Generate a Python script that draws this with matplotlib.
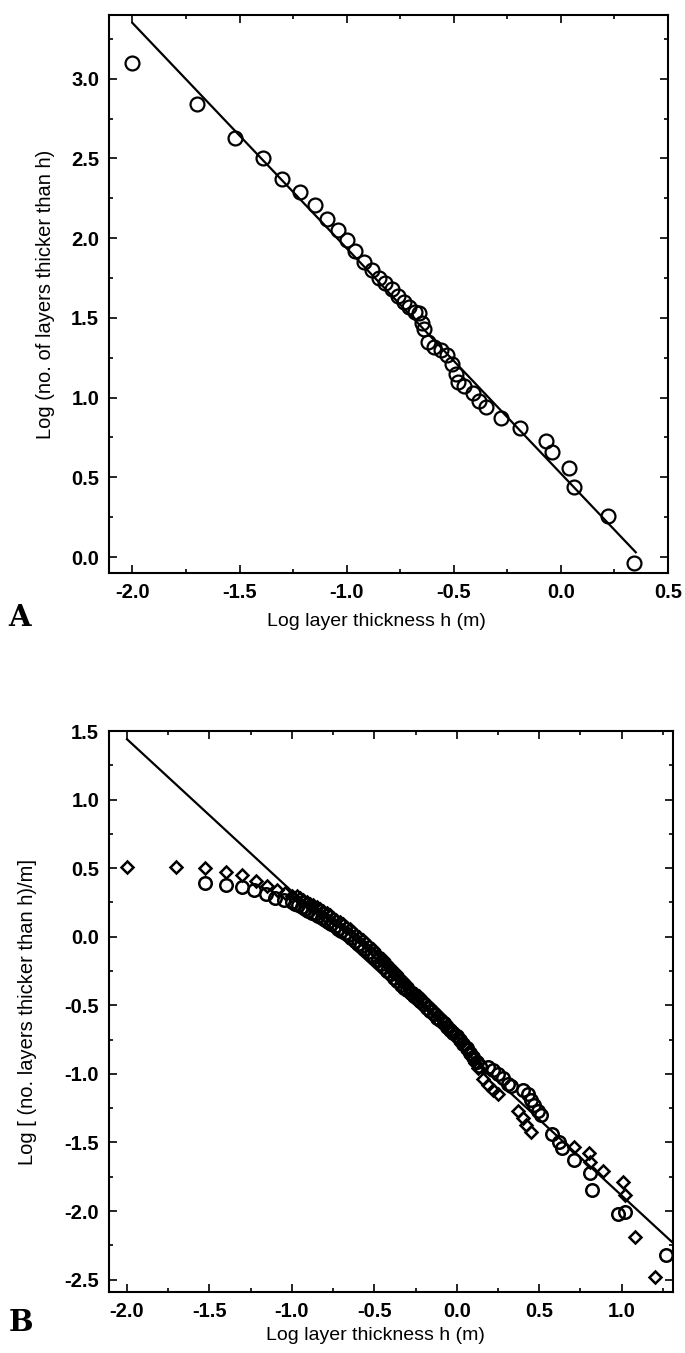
import matplotlib
matplotlib.use("Agg")
import matplotlib.pyplot as plt
from matplotlib import font_manager
from matplotlib.ticker import MultipleLocator, FormatStrFormatter

# panel A: cumulative number of layers thicker than h
a_x = [-2.00, -1.70, -1.52, -1.39, -1.30, -1.22, -1.15, -1.09, -1.04, -1.00,
       -0.96, -0.92, -0.88, -0.85, -0.82, -0.79, -0.76, -0.73, -0.71, -0.68,
       -0.66, -0.65, -0.64, -0.62, -0.59, -0.56, -0.53, -0.51, -0.49, -0.48,
       -0.45, -0.41, -0.38, -0.35, -0.28, -0.19, -0.07, -0.04, 0.04, 0.06,
       0.22, 0.34]
a_y = [3.10, 2.84, 2.63, 2.50, 2.37, 2.29, 2.21, 2.12, 2.05, 1.99,
       1.92, 1.85, 1.80, 1.75, 1.72, 1.68, 1.64, 1.60, 1.57, 1.54,
       1.53, 1.47, 1.43, 1.35, 1.32, 1.30, 1.27, 1.21, 1.15, 1.10,
       1.07, 1.03, 0.98, 0.94, 0.87, 0.81, 0.73, 0.66, 0.56, 0.44,
       0.26, -0.04]
a_fit_x = [-2.00, 0.35]
a_fit_y = [3.35, 0.03]

# panel B: normalised by section length, circles and diamonds
b_circ_x = [-1.53, -1.40, -1.30, -1.23, -1.16, -1.10, -1.05,
            -1.00, -0.98, -0.96, -0.94, -0.92, -0.90, -0.88, -0.86, -0.84, -0.82,
            -0.80, -0.78, -0.76, -0.74, -0.72, -0.70, -0.68, -0.66, -0.64, -0.62,
            -0.60, -0.58, -0.56, -0.54, -0.52, -0.50, -0.48, -0.46, -0.44, -0.42,
            -0.40, -0.38, -0.36, -0.34, -0.32, -0.30, -0.28, -0.26, -0.24, -0.22,
            -0.20, -0.18, -0.16, -0.14, -0.12, -0.10, -0.08, -0.06, -0.04, -0.02,
            0.00, 0.02, 0.04, 0.06, 0.08, 0.10, 0.12, 0.14,
            0.19, 0.22, 0.25, 0.28, 0.31, 0.33, 0.40, 0.43, 0.45, 0.47, 0.49, 0.51,
            0.58, 0.62, 0.64, 0.71, 0.81, 0.82, 0.98, 1.02, 1.27]
b_circ_y = [0.39, 0.38, 0.36, 0.34, 0.31, 0.28, 0.27,
            0.25, 0.24, 0.23, 0.215, 0.20, 0.19, 0.175, 0.165, 0.15, 0.135,
            0.12, 0.105, 0.09, 0.075, 0.06, 0.04, 0.025, 0.01, -0.01, -0.03,
            -0.05, -0.07, -0.09, -0.11, -0.13, -0.15, -0.17, -0.20, -0.22, -0.25,
            -0.27, -0.30, -0.32, -0.35, -0.37, -0.39, -0.41, -0.43, -0.45, -0.47,
            -0.49, -0.52, -0.54, -0.56, -0.59, -0.61, -0.63, -0.66, -0.68, -0.70,
            -0.72, -0.75, -0.78, -0.81, -0.85, -0.88, -0.91, -0.94,
            -0.95, -0.97, -1.00, -1.03, -1.07, -1.09, -1.12, -1.15, -1.19, -1.23, -1.27, -1.30,
            -1.44, -1.50, -1.54, -1.63, -1.72, -1.85, -2.02, -2.01, -2.32]
b_diam_x = [-2.00, -1.70, -1.53, -1.40, -1.30, -1.22, -1.15, -1.09, -1.04, -1.00,
            -0.97, -0.95, -0.93, -0.91, -0.89, -0.87, -0.85, -0.83, -0.81,
            -0.79, -0.77, -0.75, -0.73, -0.71, -0.69, -0.67, -0.65, -0.63, -0.61,
            -0.59, -0.57, -0.55, -0.53, -0.51, -0.49, -0.47, -0.45, -0.43, -0.41,
            -0.39, -0.37, -0.35, -0.33, -0.31, -0.29, -0.27, -0.25, -0.23, -0.21,
            -0.19, -0.17, -0.15, -0.13, -0.11, -0.09, -0.07, -0.05, -0.03, -0.01,
            0.01, 0.03, 0.05, 0.07, 0.09, 0.11, 0.13,
            0.16, 0.19, 0.22, 0.25, 0.37, 0.40, 0.42, 0.45,
            0.71, 0.80, 0.81, 0.89, 1.01, 1.02, 1.08, 1.20]
b_diam_y = [0.51, 0.51, 0.50, 0.47, 0.45, 0.41, 0.37, 0.34, 0.32, 0.30,
            0.295, 0.28, 0.27, 0.255, 0.24, 0.23, 0.215, 0.20, 0.185,
            0.17, 0.155, 0.14, 0.125, 0.105, 0.09, 0.07, 0.055, 0.035, 0.015,
            -0.005, -0.025, -0.045, -0.07, -0.09, -0.115, -0.14, -0.16, -0.19, -0.215,
            -0.24, -0.265, -0.29, -0.315, -0.345, -0.375, -0.395, -0.415, -0.435, -0.455,
            -0.48, -0.505, -0.525, -0.55, -0.575, -0.60, -0.625, -0.655, -0.68, -0.70,
            -0.735, -0.77, -0.80, -0.84, -0.88, -0.92, -0.96,
            -1.04, -1.08, -1.12, -1.15, -1.27, -1.32, -1.37, -1.42,
            -1.53, -1.58, -1.64, -1.71, -1.79, -1.88, -2.19, -2.48]
b_fit_x = [-2.00, 1.31]
b_fit_y = [1.44, -2.23]

available = {f.name for f in font_manager.fontManager.ttflist}
label_font = "Liberation Sans Narrow" if "Liberation Sans Narrow" in available else "Liberation Sans"
plt.rcParams['font.family'] = ['Liberation Sans', 'DejaVu Sans']

fig = plt.figure(figsize=(6.85, 13.53), dpi=100)
ax_a = fig.add_axes([0.159, 0.5765, 0.816, 0.4124])
ax_b = fig.add_axes([0.159, 0.0451, 0.823, 0.4146])


def style_axes(ax):
    for s in ax.spines.values():
        s.set_linewidth(1.5)
    ax.xaxis.set_major_locator(MultipleLocator(0.5))
    ax.xaxis.set_minor_locator(MultipleLocator(0.25))
    ax.yaxis.set_major_locator(MultipleLocator(0.5))
    ax.yaxis.set_minor_locator(MultipleLocator(0.25))
    ax.xaxis.set_major_formatter(FormatStrFormatter('%.1f'))
    ax.yaxis.set_major_formatter(FormatStrFormatter('%.1f'))
    ax.tick_params(which='both', direction='in', top=True, right=True, width=1.2)
    ax.tick_params(which='major', length=6, pad=7, labelsize=14.5)
    ax.tick_params(which='minor', length=3)
    for lab in ax.get_xticklabels() + ax.get_yticklabels():
        lab.set_fontweight('bold')


# panel A
ax_a.plot(a_fit_x, a_fit_y, color='black', lw=1.6)
ax_a.plot(a_x, a_y, linestyle='none', marker='o', ms=10, mfc='none',
          mec='black', mew=1.6)
ax_a.set_xlim(-2.11, 0.5)
ax_a.set_ylim(-0.1, 3.4)
style_axes(ax_a)
ax_a.set_xlabel('Log layer thickness h (m)', fontsize=14, family=label_font)
ax_a.set_ylabel('Log (no. of layers thicker than h)', fontsize=14.5, family=label_font)
ax_a.xaxis.set_label_coords(0.478, -0.072)
ax_a.yaxis.set_label_coords(-0.097, 0.5)

# panel B
ax_b.plot(b_fit_x, b_fit_y, color='black', lw=1.6)
ax_b.plot(b_circ_x, b_circ_y, linestyle='none', marker='o', ms=9, mfc='none',
          mec='black', mew=1.8)
ax_b.plot(b_diam_x, b_diam_y, linestyle='none', marker='D', ms=6.3, mfc='none',
          mec='black', mew=1.8)
ax_b.set_xlim(-2.11, 1.31)
ax_b.set_ylim(-2.59, 1.5)
style_axes(ax_b)
ax_b.set_xlabel('Log layer thickness h (m)', fontsize=14, family=label_font)
ax_b.set_ylabel('Log [ (no. layers thicker than h)/m]', fontsize=14.5, family=label_font)
ax_b.xaxis.set_label_coords(0.473, -0.062)
ax_b.yaxis.set_label_coords(-0.127, 0.5)

fig.text(0.012, 0.537, 'A', fontsize=21, fontweight='heavy', family='DejaVu Serif')
fig.text(0.012, 0.016, 'B', fontsize=21, fontweight='heavy', family='DejaVu Serif')

fig.savefig('out.png', dpi=100)
